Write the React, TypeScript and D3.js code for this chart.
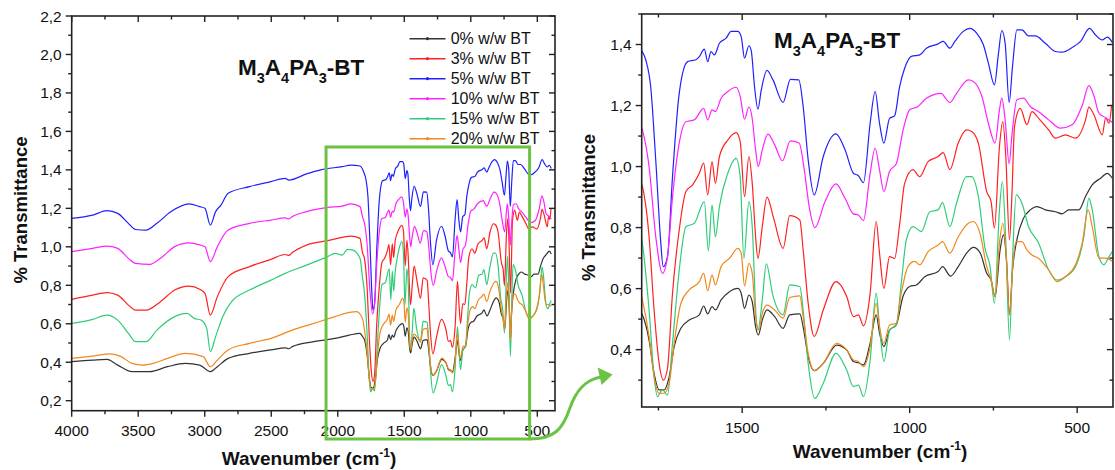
import React from 'react';
import * as d3 from 'd3';

type P = [number, number];

const SERIES_NAMES = ['0% w/w BT', '3% w/w BT', '5% w/w BT', '10% w/w BT', '15% w/w BT', '20% w/w BT'];
const SERIES_COLORS = ['#333333', '#ff2020', '#2020ff', '#ff22ff', '#2fcc78', '#f0881c'];

const bt0: P[] = [[4000,0.403],[3842,0.411],[3735,0.415],[3654,0.385],[3547,0.351],[3413,0.351],[3279,0.377],[3145,0.394],[3038,0.385],[2958,0.351],[2905,0.377],[2824,0.42],[2663,0.446],[2502,0.464],[2395,0.475],[2368,0.47],[2342,0.481],[2181,0.507],[2021,0.524],[1913,0.541],[1833,0.55],
[1815,0.535],[1798,0.514],[1778,0.431],[1763,0.322],[1748,0.268],[1733,0.268],[1718,0.311],[1703,0.41],[1683,0.47],[1658,0.497],[1628,0.514],[1615,0.543],[1603,0.517],[1590,0.541],[1580,0.53],[1563,0.563],[1538,0.59],[1513,0.601],[1503,0.585],[1493,0.535],[1480,0.579],[1470,0.557],[1460,0.475],[1452,0.448],[1440,0.497],[1426,0.53],[1403,0.508],[1378,0.47],[1358,0.514],[1328,0.517],[1318,0.475],[1303,0.377],[1285,0.331],[1258,0.355],[1218,0.415],[1188,0.399],[1168,0.361],[1153,0.357],[1138,0.35],[1118,0.421],[1100,0.514],[1090,0.454],[1077,0.41],[1060,0.464],[1040,0.481],[1020,0.574],[1000,0.607],[980,0.612],[955,0.639],[915,0.656],[902,0.672],[878,0.641],[855,0.672],[830,0.716],[810,0.735],[790,0.718],[770,0.65],[757,0.628],[745,0.574],[730,0.727],[720,0.776],[711,0.694],[702,0.514],[693,0.661],[680,0.76],[660,0.831],[640,0.858],[620,0.869],[595,0.858],[565,0.852],[545,0.845],[525,0.858],[495,0.858],[475,0.902],[455,0.94],[430,0.962],[410,0.978],[395,0.962]];

const bt3: P[] = [[4000,0.727],[3842,0.749],[3735,0.762],[3654,0.749],[3574,0.697],[3520,0.671],[3440,0.671],[3333,0.715],[3226,0.775],[3119,0.796],[3038,0.779],[2998,0.758],[2958,0.645],[2905,0.741],[2824,0.845],[2663,0.897],[2502,0.935],[2395,0.96],[2368,0.955],[2342,0.97],[2235,1.009],[2075,1.032],[1967,1.049],[1900,1.056],[1833,1.044],
[1815,0.973],[1798,0.935],[1778,0.77],[1763,0.53],[1748,0.355],[1735,0.3],[1723,0.339],[1708,0.585],[1688,0.792],[1668,0.918],[1648,0.94],[1628,0.978],[1615,1.011],[1603,0.907],[1590,1.016],[1580,0.945],[1568,1.033],[1543,1.087],[1518,1.111],[1506,1.082],[1493,0.901],[1480,1.033],[1470,0.945],[1460,0.77],[1453,0.699],[1440,0.803],[1426,0.9],[1406,0.83],[1378,0.732],[1358,0.839],[1328,0.825],[1318,0.727],[1303,0.552],[1285,0.443],[1258,0.53],[1220,0.623],[1188,0.574],[1168,0.508],[1153,0.514],[1138,0.478],[1118,0.585],[1100,0.82],[1090,0.716],[1077,0.601],[1060,0.705],[1045,0.699],[1030,0.81],[1015,0.945],[990,0.99],[970,0.967],[945,1.016],[915,1.033],[900,1.046],[880,0.99],[855,1.077],[830,1.12],[815,1.115],[795,1.077],[770,0.918],[757,0.885],[747,0.798],[732,1.065],[722,1.147],[713,1.033],[702,0.76],[695,0.9],[687,1.131],[670,1.191],[650,1.137],[635,1.18],[615,1.158],[585,1.12],[565,1.093],[535,1.104],[505,1.093],[475,1.153],[465,1.195],[450,1.17],[425,1.104],[415,1.16],[405,1.142],[397,1.202]];

const bt5: P[] = [[4000,1.148],[3842,1.165],[3735,1.188],[3654,1.174],[3574,1.122],[3520,1.09],[3440,1.087],[3360,1.122],[3253,1.183],[3119,1.223],[3038,1.209],[2998,1.2],[2958,1.113],[2918,1.183],[2878,1.217],[2824,1.278],[2663,1.313],[2502,1.339],[2395,1.356],[2368,1.347],[2235,1.379],[2128,1.4],[1967,1.417],[1900,1.425],[1833,1.42],
[1803,1.385],[1788,1.35],[1773,1.26],[1758,1.02],[1743,0.75],[1736,0.672],[1723,0.705],[1708,0.967],[1688,1.24],[1663,1.344],[1638,1.35],[1628,1.36],[1613,1.385],[1603,1.344],[1593,1.377],[1583,1.366],[1568,1.404],[1548,1.421],[1533,1.443],[1513,1.443],[1503,1.426],[1493,1.355],[1480,1.396],[1473,1.38],[1463,1.26],[1453,1.188],[1443,1.251],[1426,1.315],[1408,1.284],[1378,1.21],[1356,1.286],[1331,1.284],[1318,1.197],[1303,1.022],[1285,0.907],[1258,1.033],[1220,1.107],[1193,1.055],[1168,0.978],[1153,0.97],[1138,0.947],[1118,1.142],[1103,1.246],[1090,1.142],[1077,1.077],[1060,1.158],[1045,1.166],[1030,1.262],[1015,1.322],[995,1.361],[970,1.366],[950,1.388],[915,1.402],[900,1.41],[880,1.388],[865,1.41],[840,1.443],[820,1.453],[800,1.437],[780,1.399],[765,1.339],[747,1.268],[735,1.37],[725,1.446],[715,1.404],[703,1.21],[693,1.328],[680,1.448],[665,1.448],[645,1.428],[625,1.428],[595,1.404],[565,1.377],[545,1.375],[515,1.39],[490,1.41],[463,1.453],[445,1.431],[425,1.415],[410,1.424],[395,1.407]];

const bt10: P[] = [[4000,0.975],[3842,0.992],[3735,1.004],[3654,0.992],[3574,0.94],[3520,0.914],[3413,0.909],[3333,0.94],[3226,1.001],[3119,1.021],[3038,1.01],[2998,1.0],[2958,0.923],[2905,1.001],[2824,1.087],[2663,1.122],[2502,1.139],[2395,1.15],[2368,1.145],[2342,1.157],[2235,1.183],[2075,1.205],[1967,1.212],[1900,1.223],[1833,1.209],
[1813,1.153],[1798,1.12],[1778,1.0],[1758,0.77],[1738,0.65],[1723,0.705],[1708,0.9],[1688,1.077],[1668,1.147],[1643,1.153],[1615,1.191],[1603,1.153],[1590,1.186],[1580,1.18],[1563,1.224],[1543,1.246],[1518,1.26],[1506,1.23],[1493,1.155],[1480,1.196],[1471,1.164],[1460,1.055],[1452,1.0],[1440,1.055],[1423,1.106],[1403,1.071],[1380,1.019],[1356,1.084],[1330,1.077],[1316,1.0],[1300,0.869],[1283,0.8],[1253,0.885],[1220,0.943],[1193,0.896],[1168,0.845],[1153,0.841],[1138,0.823],[1118,0.978],[1103,1.06],[1090,0.989],[1077,0.918],[1060,0.985],[1040,1.009],[1020,1.118],[1000,1.186],[975,1.197],[950,1.224],[905,1.24],[895,1.227],[880,1.21],[860,1.24],[825,1.284],[810,1.279],[785,1.232],[765,1.142],[745,1.077],[732,1.186],[725,1.224],[715,1.153],[703,1.009],[695,1.099],[680,1.219],[660,1.224],[640,1.197],[615,1.18],[585,1.153],[550,1.126],[515,1.137],[485,1.2],[465,1.265],[450,1.232],[435,1.175],[415,1.16],[395,1.145]];

const bt15: P[] = [[4000,0.602],[3842,0.623],[3735,0.645],[3654,0.619],[3574,0.55],[3520,0.507],[3440,0.507],[3360,0.567],[3226,0.637],[3132,0.654],[3080,0.628],[3026,0.619],[2985,0.576],[2958,0.455],[2918,0.533],[2865,0.637],[2798,0.715],[2663,0.775],[2502,0.827],[2395,0.862],[2235,0.905],[2075,0.949],[2021,0.966],[1967,0.957],[1927,0.987],[1886,0.983],[1833,0.94],
[1815,0.847],[1798,0.749],[1778,0.53],[1763,0.311],[1753,0.246],[1738,0.268],[1723,0.251],[1708,0.421],[1690,0.639],[1668,0.803],[1643,0.814],[1613,0.885],[1601,0.724],[1590,0.874],[1580,0.77],[1568,0.869],[1543,0.978],[1518,1.027],[1506,0.967],[1495,0.699],[1480,0.885],[1470,0.803],[1458,0.497],[1453,0.464],[1440,0.563],[1428,0.681],[1408,0.576],[1378,0.514],[1358,0.612],[1328,0.607],[1318,0.53],[1303,0.355],[1283,0.24],[1258,0.29],[1220,0.388],[1188,0.333],[1168,0.279],[1153,0.284],[1138,0.246],[1118,0.366],[1100,0.585],[1090,0.475],[1077,0.361],[1060,0.464],[1040,0.481],[1025,0.618],[1010,0.76],[990,0.803],[965,0.787],[940,0.852],[915,0.858],[902,0.882],[880,0.803],[860,0.88],[830,0.967],[815,0.967],[795,0.902],[775,0.732],[760,0.672],[747,0.552],[732,0.858],[723,0.951],[713,0.749],[702,0.432],[693,0.694],[682,0.907],[665,0.88],[645,0.803],[615,0.749],[585,0.661],[560,0.628],[535,0.639],[505,0.672],[480,0.77],[465,0.896],[455,0.858],[435,0.705],[420,0.678],[405,0.705],[395,0.721]];

const bt20: P[] = [[4000,0.42],[3842,0.432],[3708,0.443],[3628,0.429],[3547,0.394],[3467,0.385],[3386,0.394],[3279,0.42],[3145,0.446],[3011,0.429],[2958,0.377],[2905,0.411],[2824,0.464],[2663,0.498],[2502,0.524],[2342,0.567],[2181,0.602],[2021,0.637],[1913,0.659],[1859,0.663],
[1815,0.628],[1798,0.563],[1778,0.443],[1763,0.311],[1748,0.257],[1733,0.257],[1718,0.29],[1703,0.421],[1683,0.552],[1658,0.596],[1628,0.623],[1615,0.65],[1603,0.593],[1590,0.645],[1580,0.612],[1563,0.672],[1538,0.699],[1513,0.732],[1503,0.716],[1493,0.609],[1480,0.683],[1470,0.65],[1460,0.508],[1450,0.464],[1440,0.519],[1426,0.546],[1403,0.53],[1378,0.503],[1358,0.571],[1328,0.576],[1318,0.508],[1303,0.388],[1285,0.331],[1258,0.355],[1218,0.421],[1188,0.399],[1168,0.366],[1153,0.361],[1138,0.344],[1118,0.41],[1100,0.552],[1090,0.475],[1077,0.421],[1060,0.481],[1040,0.486],[1025,0.585],[1005,0.672],[985,0.689],[970,0.678],[945,0.721],[915,0.743],[902,0.754],[880,0.716],[855,0.77],[825,0.814],[810,0.82],[790,0.781],[770,0.672],[757,0.628],[745,0.574],[732,0.749],[722,0.814],[712,0.716],[702,0.514],[693,0.661],[683,0.754],[665,0.754],[650,0.727],[635,0.71],[615,0.699],[585,0.661],[560,0.623],[535,0.639],[505,0.678],[485,0.749],[467,0.858],[455,0.803],[435,0.7],[415,0.7],[395,0.69]];

const SERIES: P[][] = [bt0, bt3, bt5, bt10, bt15, bt20];

const LEFT_X_MAJOR = [4000, 3500, 3000, 2500, 2000, 1500, 1000, 500];
const LEFT_X_MINOR = [3750, 3250, 2750, 2250, 1750, 1250, 750];
const LEFT_Y_MAJOR = [0.2, 0.4, 0.6, 0.8, 1.0, 1.2, 1.4, 1.6, 1.8, 2.0, 2.2];
const LEFT_Y_MINOR = [0.3, 0.5, 0.7, 0.9, 1.1, 1.3, 1.5, 1.7, 1.9, 2.1];
const RIGHT_X_MAJOR = [1500, 1000, 500];
const RIGHT_X_MINOR = [1750, 1250, 750];
const RIGHT_Y_MAJOR = [0.4, 0.6, 0.8, 1.0, 1.2, 1.4];
const RIGHT_Y_MINOR = [0.3, 0.5, 0.7, 0.9, 1.1, 1.3, 1.5];

const ZOOM_BOX = { wnFrom: 2088, wnTo: 558, top: 1.519 };

const FONT = 'Arial, "Liberation Sans", Helvetica, sans-serif';
const AXIS_COLOR = '#222';
const GREEN = '#6cc244';

const fmt = (v: number) => v.toFixed(1).replace('.', ',');

interface PanelProps {
  id: string;
  x0: number; x1: number; y0: number; y1: number;
  xDomain: [number, number]; yDomain: [number, number];
  xMajor: number[]; xMinor: number[]; yMajor: number[]; yMinor: number[];
  xLabelY: number; xTitle: [number, number]; yTitle: [number, number];
}

function Panel(p: PanelProps) {
  const x = d3.scaleLinear().domain(p.xDomain).range([p.x0, p.x1]);
  const y = d3.scaleLinear().domain(p.yDomain).range([p.y1, p.y0]);
  const line = d3.line<P>().x(d => x(d[0])).y(d => y(d[1])).curve(d3.curveMonotoneX);
  const MJ = 6, MN = 3.5;
  return (
    <g>
      <defs>
        <clipPath id={p.id}>
          <rect x={p.x0} y={p.y0} width={p.x1 - p.x0} height={p.y1 - p.y0} />
        </clipPath>
      </defs>
      <g clipPath={`url(#${p.id})`}>
        {SERIES.map((s, i) => (
          <path key={i} d={line(s) || ''} fill="none" stroke={SERIES_COLORS[i]} strokeWidth={1.2} strokeLinejoin="round" />
        ))}
      </g>
      <rect x={p.x0} y={p.y0} width={p.x1 - p.x0} height={p.y1 - p.y0} fill="none" stroke={AXIS_COLOR} strokeWidth={1.6} />
      {p.xMajor.map(v => (
        <g key={'xm' + v}>
          <line x1={x(v)} x2={x(v)} y1={p.y1} y2={p.y1 + MJ} stroke={AXIS_COLOR} strokeWidth={1.4} />
          <line x1={x(v)} x2={x(v)} y1={p.y0} y2={p.y0 + MJ} stroke={AXIS_COLOR} strokeWidth={1.4} />
          <text x={x(v)} y={p.xLabelY} textAnchor="middle" fontSize={15.5} fontFamily={FONT} fill="#111">{v}</text>
        </g>
      ))}
      {p.xMinor.map(v => (
        <g key={'xn' + v}>
          <line x1={x(v)} x2={x(v)} y1={p.y1} y2={p.y1 + MN} stroke={AXIS_COLOR} strokeWidth={1.4} />
          <line x1={x(v)} x2={x(v)} y1={p.y0} y2={p.y0 + MN} stroke={AXIS_COLOR} strokeWidth={1.4} />
        </g>
      ))}
      {p.yMajor.map(v => (
        <g key={'ym' + v}>
          <line x1={p.x0 - MJ} x2={p.x0} y1={y(v)} y2={y(v)} stroke={AXIS_COLOR} strokeWidth={1.4} />
          <line x1={p.x1 - MJ} x2={p.x1} y1={y(v)} y2={y(v)} stroke={AXIS_COLOR} strokeWidth={1.4} />
          <text x={p.x0 - 10} y={y(v) + 5.5} textAnchor="end" fontSize={15.5} fontFamily={FONT} fill="#111">{fmt(v)}</text>
        </g>
      ))}
      {p.yMinor.map(v => (
        <g key={'yn' + v}>
          <line x1={p.x0 - MN} x2={p.x0} y1={y(v)} y2={y(v)} stroke={AXIS_COLOR} strokeWidth={1.4} />
          <line x1={p.x1 - MN} x2={p.x1} y1={y(v)} y2={y(v)} stroke={AXIS_COLOR} strokeWidth={1.4} />
        </g>
      ))}
      <text x={p.xTitle[0]} y={p.xTitle[1]} textAnchor="middle" fontSize={19} fontWeight="bold" fontFamily={FONT} fill="#111">
        Wavenumber (cm<tspan fontSize={12} dy={-8}>-1</tspan><tspan dy={8}>)</tspan>
      </text>
      <text transform={`translate(${p.yTitle[0]},${p.yTitle[1]}) rotate(-90)`} textAnchor="middle" dominantBaseline="central" fontSize={18.5} fontWeight="bold" fontFamily={FONT} fill="#111">
        % Transmittance
      </text>
    </g>
  );
}

function Title({ x, y }: { x: number; y: number }) {
  return (
    <text x={x} y={y} fontSize={22.5} fontWeight="bold" fontFamily={FONT} fill="#111">
      M<tspan fontSize={14.5} dy={8}>3</tspan>
      <tspan dy={-8}>A</tspan><tspan fontSize={14.5} dy={8}>4</tspan>
      <tspan dy={-8}>PA</tspan><tspan fontSize={14.5} dy={8}>3</tspan>
      <tspan dy={-8}>-BT</tspan>
    </text>
  );
}

export default function App() {
  const L = { x0: 71.7, x1: 555, y0: 16, y1: 410.7 };
  const R = { x0: 641.7, x1: 1113, y0: 14, y1: 407 };
  const xL = d3.scaleLinear().domain([4000, 367]).range([L.x0, L.x1]);
  const yL = d3.scaleLinear().domain([0.148, 2.2]).range([L.y1, L.y0]);

  const bx0 = xL(ZOOM_BOX.wnFrom), bx1 = xL(ZOOM_BOX.wnTo), by0 = yL(ZOOM_BOX.top), by1 = L.y1 + 28.3;

  return (
    <svg width={1115} height={470} style={{ position: 'absolute', left: 0, top: 0, background: '#fff' }}>
      <rect x={0} y={0} width={1115} height={470} fill="#fff" />
      <Panel id="clipL" {...L} xDomain={[4000, 367]} yDomain={[0.148, 2.2]}
        xMajor={LEFT_X_MAJOR} xMinor={LEFT_X_MINOR} yMajor={LEFT_Y_MAJOR} yMinor={LEFT_Y_MINOR}
        xLabelY={436} xTitle={[309, 465]} yTitle={[20.5, 210]} />
      <Panel id="clipR" {...R} xDomain={[1800, 393]} yDomain={[0.212, 1.5]}
        xMajor={RIGHT_X_MAJOR} xMinor={RIGHT_X_MINOR} yMajor={RIGHT_Y_MAJOR} yMinor={RIGHT_Y_MINOR}
        xLabelY={433} xTitle={[880, 458]} yTitle={[588, 207.5]} />
      <Title x={238} y={75} />
      <Title x={774} y={48} />
      {SERIES_NAMES.map((n, i) => {
        const cy = 38.7 + i * 20;
        return (
          <g key={n}>
            <line x1={409.5} x2={445.5} y1={cy} y2={cy} stroke={SERIES_COLORS[i]} strokeWidth={1.4} />
            <circle cx={427.5} cy={cy} r={1.6} fill={SERIES_COLORS[i]} />
            <text x={450.7} y={cy + 5.7} fontSize={16} fontFamily={FONT} fill="#111">{n}</text>
          </g>
        );
      })}
      <rect x={bx0} y={by0} width={bx1 - bx0} height={by1 - by0} fill="none" stroke={GREEN} strokeWidth={3} />
      <path d={`M${bx1},${by1} C${bx1 + 25},${by1} ${bx1 + 33},${by1 - 10} ${bx1 + 40},${by1 - 30} C${bx1 + 46},${by1 - 48} ${bx1 + 55},${by1 - 59} ${bx1 + 71},${by1 - 62}`}
        fill="none" stroke={GREEN} strokeWidth={3} />
      <path d={`M${bx1 + 83},${by1 - 64.5} L${bx1 + 68},${by1 - 71.5} L${bx1 + 72},${by1 - 54} Z`} fill={GREEN} />
    </svg>
  );
}
